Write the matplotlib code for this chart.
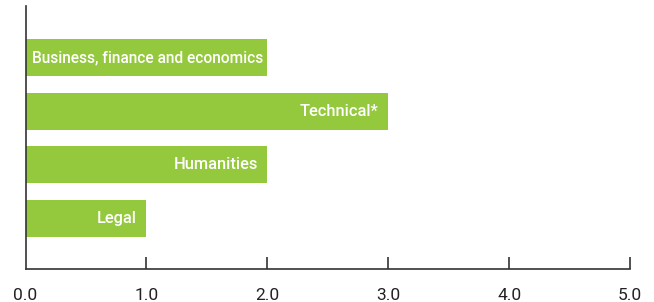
import matplotlib
matplotlib.use("Agg")
import matplotlib.pyplot as plt
from matplotlib.ticker import FixedLocator

categories = ["Business, finance and economics", "Technical*", "Humanities", "Legal"]
values = [2.0, 3.0, 2.0, 1.0]
xticks = [0, 1, 2, 3, 4, 5]
xtick_labels = ["0.0", "1.0", "2.0", "3.0", "4.0", "5.0"]

fig = plt.figure(figsize=(6.54, 3.02), dpi=100)
ax = fig.add_axes([25.5/654, 1 - 269/302, (630-25.5)/654, (269-6)/302])

n = len(categories)
ypos = list(range(n - 1, -1, -1))
ax.barh(ypos, values, height=0.69, color="#95C93D", edgecolor="none")
for y, v, lab in zip(ypos, values, categories):
    long = len(lab) > 20
    ax.text(v - (0.03 if long else 0.08), y, lab, ha="right", va="center", color="white",
            fontsize=11.2 if long else 11.8, fontfamily="Roboto", fontweight="medium")

ax.set_xlim(0, 5)
ax.set_ylim(-0.95, 3.97)
ax.set_xticks(xticks)
ax.set_xticklabels(xtick_labels, fontfamily="Roboto", fontsize=12.5, color="#222222")
ax.xaxis.set_major_locator(FixedLocator(xticks))
ax.tick_params(axis="x", direction="in", length=9, width=1.2, color="#333333", pad=14)
ax.set_yticks([])
for s in ["top", "right"]:
    ax.spines[s].set_visible(False)
for s in ["left", "bottom"]:
    ax.spines[s].set_color("#333333")
    ax.spines[s].set_linewidth(1.2)
ax.xaxis.get_major_ticks()[0].tick1line.set_visible(False)

fig.savefig("out.png", dpi=100)
